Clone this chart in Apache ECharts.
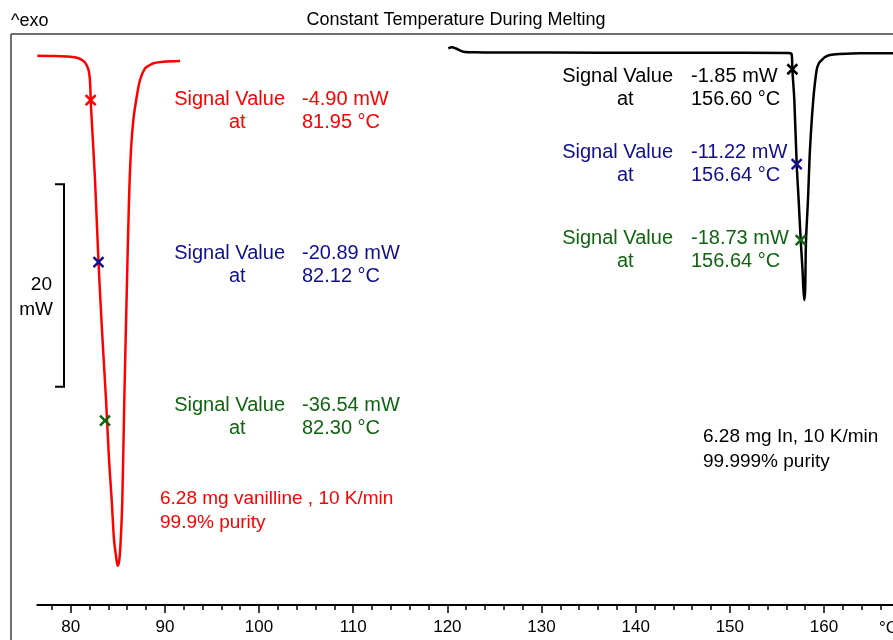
<!DOCTYPE html>
<html>
<head>
<meta charset="utf-8">
<title>Constant Temperature During Melting</title>
<script src="https://cdn.jsdelivr.net/npm/echarts@6/dist/echarts.min.js"></script>
<style>
  html, body { margin: 0; padding: 0; background: #fff; }
  #chart { width: 893px; height: 640px; }
</style>
</head>
<body>
<div id="chart"></div>
<script>
// vanilline curve (temperature °C, heat flow mW)
const redTemp = [76.45, 78.33, 79.93, 80.78, 81.20, 81.52, 81.73, 81.89, 82.00, 82.07, 82.12, 82.23, 82.58, 82.95, 83.32, 83.75, 84.07, 84.35, 84.60, 84.81, 84.99, 85.16, 85.31, 85.48, 85.69, 85.93, 86.19, 86.40, 86.65, 87.01, 87.36, 87.89, 88.42, 88.77, 89.83, 91.61];
const redSignal = [-0.51, -0.54, -0.61, -0.74, -0.94, -1.18, -1.53, -1.92, -2.52, -3.41, -4.82, -6.86, -12.78, -20.88, -27.59, -34.50, -40.42, -44.37, -48.32, -49.90, -50.86, -50.30, -48.32, -44.37, -34.50, -24.63, -14.76, -9.83, -6.86, -4.56, -2.91, -1.76, -1.43, -1.26, -1.11, -1.04];

// indium curve
const blackTemp = [120.10, 120.46, 120.92, 121.70, 122.94, 125.59, 136.21, 146.83, 156.28, 156.57, 156.64, 156.85, 157.10, 157.31, 157.53, 157.72, 157.82, 157.91, 158.00, 158.09, 158.30, 158.51, 158.86, 159.22, 159.47, 159.76, 160.11, 160.64, 161.70, 163.82, 167.33];
const blackSignal = [0.22, 0.32, 0.20, -0.12, -0.18, -0.20, -0.21, -0.22, -0.25, -0.39, -1.86, -4.89, -11.20, -14.76, -18.78, -21.67, -23.64, -24.63, -23.64, -18.78, -14.76, -9.82, -4.89, -1.92, -1.23, -0.94, -0.64, -0.44, -0.35, -0.28, -0.28];

// evaluation markers
const redMarkTemp = [82.12, 82.95, 83.64];
const redMarkSignal = [-4.90, -20.89, -36.54];
const blackMarkTemp = [156.64, 157.10, 157.53];
const blackMarkSignal = [-1.85, -11.22, -18.73];

const redNotes = [['-4.90 mW', '81.95 °C'], ['-20.89 mW', '82.12 °C'], ['-36.54 mW', '82.30 °C']];
const blackNotes = [['-1.85 mW', '156.60 °C'], ['-11.22 mW', '156.64 °C'], ['-18.73 mW', '156.64 °C']];

const majorTicks = [80, 90, 100, 110, 120, 130, 140, 150, 160];
const minorTicks = [78, 82, 84, 86, 88, 92, 94, 96, 98, 102, 104, 106, 108, 112, 114, 116, 118, 122, 124, 126, 128, 132, 134, 136, 138, 142, 144, 146, 148, 152, 154, 156, 158, 162, 164, 166];

// 20 mW scale bar, top value
const scaleTop = -13.2;
const scaleSpan = 20;

const FONT = '"Liberation Sans", Arial, sans-serif';
const RED = '#ff0000';
const BLUE = '#10108c';
const GREEN = '#106410';
const markColorsRed = [RED, BLUE, GREEN];
const markColorsBlack = ['#000000', BLUE, GREEN];

const pairs = (xs, ys) => xs.map((x, i) => [x, ys[i]]);
const marks = (xs, ys, colors) => xs.map((x, i) => ({
  value: [x, ys[i]],
  itemStyle: { borderColor: colors[i] }
}));

const chart = echarts.init(document.getElementById('chart'));

const option = {
  animation: false,
  backgroundColor: '#fff',
  grid: { left: 37.3, right: 0, top: 34, bottom: 35, outerBoundsMode: 'none' },
  xAxis: [
    {
      type: 'value',
      position: 'bottom',
      min: 76.45,
      max: 167.33,
      axisLine: { show: true, onZero: false, lineStyle: { color: '#000', width: 2 } },
      axisTick: { show: true, customValues: majorTicks, length: 8, lineStyle: { color: '#000', width: 1.5 } },
      axisLabel: { show: true, customValues: majorTicks, margin: 14, color: '#000', fontSize: 17, fontFamily: FONT },
      splitLine: { show: false }
    },
    {
      type: 'value',
      position: 'bottom',
      offset: 0,
      min: 76.45,
      max: 167.33,
      axisLine: { show: false, onZero: false },
      axisTick: { show: true, customValues: minorTicks, length: 5, lineStyle: { color: '#000', width: 1.5 } },
      axisLabel: { show: false },
      splitLine: { show: false }
    }
  ],
  yAxis: {
    type: 'value',
    min: -54.74,
    max: 1.63,
    show: false,
    splitLine: { show: false }
  },
  series: [
    {
      type: 'line',
      data: pairs(redTemp, redSignal),
      showSymbol: false,
      smooth: 0.3,
      lineStyle: { color: RED, width: 2.5 }
    },
    {
      type: 'line',
      data: pairs(blackTemp, blackSignal),
      showSymbol: false,
      smooth: 0.3,
      lineStyle: { color: '#000', width: 2.5 }
    },
    {
      type: 'scatter',
      symbol: 'path://M0,0L10,10M10,0L0,10',
      symbolSize: 10,
      itemStyle: { color: 'rgba(0,0,0,0)', borderWidth: 2.5, opacity: 1 },
      data: marks(redMarkTemp, redMarkSignal, markColorsRed).concat(marks(blackMarkTemp, blackMarkSignal, markColorsBlack)),
      z: 5
    }
  ]
};

chart.setOption(option);

function txt(x, y, text, color, size, align) {
  return {
    type: 'text',
    x: x,
    y: y,
    style: {
      text: text,
      fill: color,
      font: size + 'px ' + FONT,
      textAlign: align || 'left',
      textVerticalAlign: 'middle'
    }
  };
}

function noteGroup(right, valueLeft, y, color, values) {
  return [
    txt(right, y, 'Signal Value', color, 20, 'right'),
    txt(right - 56, y + 23, 'at', color, 20, 'left'),
    txt(valueLeft, y, values[0], color, 20, 'left'),
    txt(valueLeft, y + 23, values[1], color, 20, 'left')
  ];
}

const barTop = chart.convertToPixel({ yAxisIndex: 0 }, scaleTop);
const barBottom = chart.convertToPixel({ yAxisIndex: 0 }, scaleTop - scaleSpan);
const barMid = (barTop + barBottom) / 2;

let graphic = [
  { type: 'line', shape: { x1: 11, y1: 34, x2: 893, y2: 34 }, style: { stroke: '#404040', lineWidth: 1.5 } },
  { type: 'line', shape: { x1: 11, y1: 34, x2: 11, y2: 640 }, style: { stroke: '#404040', lineWidth: 1.5 } },
  txt(11, 21, '^exo', '#000', 18, 'left'),
  txt(456, 20, 'Constant Temperature During Melting', '#000', 18, 'center'),
  txt(879, 628, '°C', '#000', 17, 'left'),
  {
    type: 'polyline',
    shape: { points: [[55, barTop], [64, barTop], [64, barBottom], [55, barBottom]] },
    style: { stroke: '#000', lineWidth: 2, fill: null }
  },
  txt(52, barMid - 1, '20', '#000', 19, 'right'),
  txt(53, barMid + 24, 'mW', '#000', 19, 'right'),
  txt(160, 499, '6.28 mg vanilline , 10 K/min', RED, 19, 'left'),
  txt(160, 523, '99.9% purity', RED, 19, 'left'),
  txt(703, 437, '6.28 mg In, 10 K/min', '#000', 19, 'left'),
  txt(703, 462, '99.999% purity', '#000', 19, 'left')
];

const redY = [99, 253, 405];
const blackY = [76, 152, 238];
redNotes.forEach((v, i) => {
  graphic = graphic.concat(noteGroup(285, 302, redY[i], markColorsRed[i], v));
});
blackNotes.forEach((v, i) => {
  graphic = graphic.concat(noteGroup(673, 691, blackY[i], markColorsBlack[i], v));
});

chart.setOption({ graphic: graphic });
</script>
</body>
</html>
